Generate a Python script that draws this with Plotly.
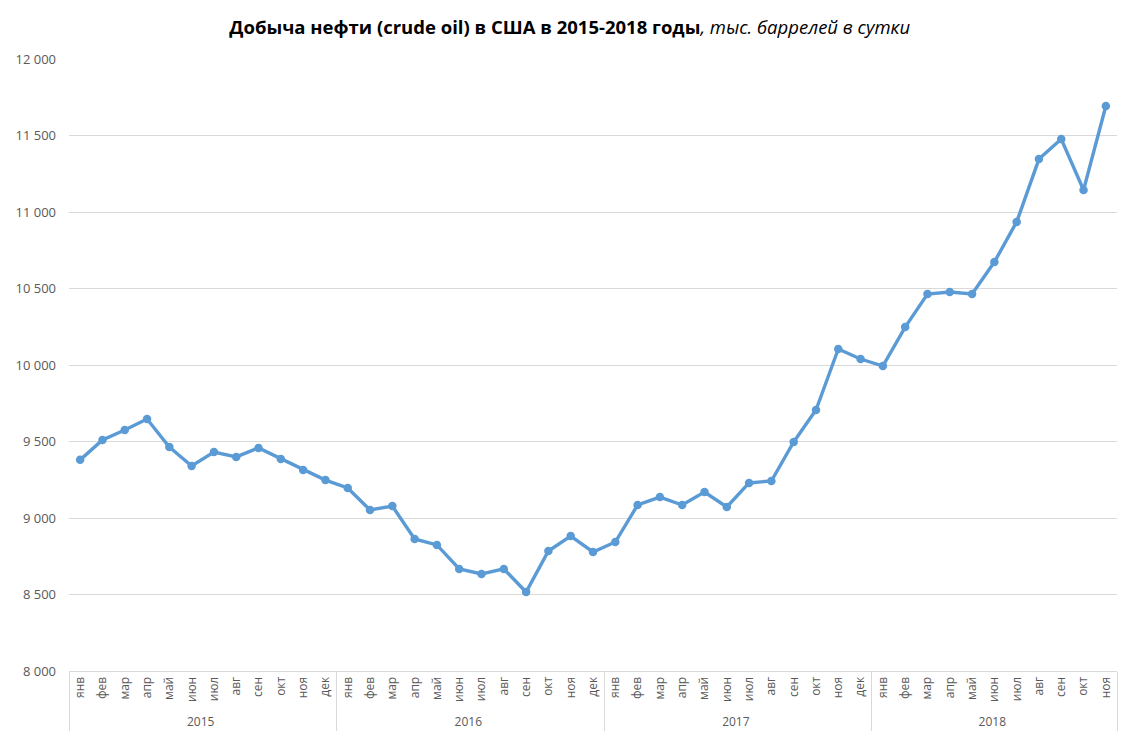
import plotly.graph_objects as go

years = ["2015"] * 12 + ["2016"] * 12 + ["2017"] * 12 + ["2018"] * 11
month_names = ["янв", "фев", "мар", "апр", "май", "июн", "июл", "авг", "сен", "окт", "ноя", "дек"]
months = month_names * 3 + month_names[:11]
production = [
    9380, 9510, 9575, 9647, 9464, 9340, 9431, 9399, 9458, 9386, 9314, 9248,
    9196, 9052, 9078, 8863, 8824, 8667, 8634, 8667, 8516, 8784, 8882, 8778,
    8843, 9085, 9137, 9085, 9170, 9072, 9229, 9242, 9497, 9706, 10105, 10039,
    9993, 10248, 10464, 10477, 10464, 10673, 10935, 11346, 11477, 11144, 11693,
]
y_ticks = [8000, 8500, 9000, 9500, 10000, 10500, 11000, 11500, 12000]

fig = go.Figure()
fig.add_trace(go.Scatter(
    x=[years, months],
    y=production,
    mode="lines+markers",
    line=dict(color="#5B9BD5", width=3.4),
    marker=dict(color="#5B9BD5", size=8.5),
    showlegend=False,
))

fig.update_layout(
    width=1128, height=750,
    paper_bgcolor="white", plot_bgcolor="white",
    separators=", ",
    margin=dict(l=61, r=19, t=51, b=87),
    title=dict(
        text="<b>Добыча нефти (crude oil) в США в 2015-2018 годы</b><i>, тыс. баррелей в сутки</i>",
        x=0.498, xanchor="center", y=0.974, yanchor="middle",
        font=dict(family="Open Sans", size=18.5, color="#000000"),
    ),
    font=dict(family="Open Sans", color="#595959"),
)
fig.update_yaxes(
    range=[8000, 12000], tickvals=y_ticks, tickformat=",d",
    showgrid=True, gridcolor="#D9D9D9", gridwidth=1,
    zeroline=False, showline=False,
    tickfont=dict(size=13, color="#595959"),
    ticks="", ticklabelstandoff=12, automargin=False,
)
fig.update_xaxes(
    type="multicategory",
    range=[-0.5, len(production) - 0.5],
    tickangle=-90,
    showline=True, linecolor="#D9D9D9", linewidth=1,
    showdividers=True, dividercolor="#D9D9D9", dividerwidth=1,
    tickfont=dict(size=12, color="#595959"),
    ticks="",
    showgrid=False,
    automargin=False,
)
fig.write_html("out.html")
